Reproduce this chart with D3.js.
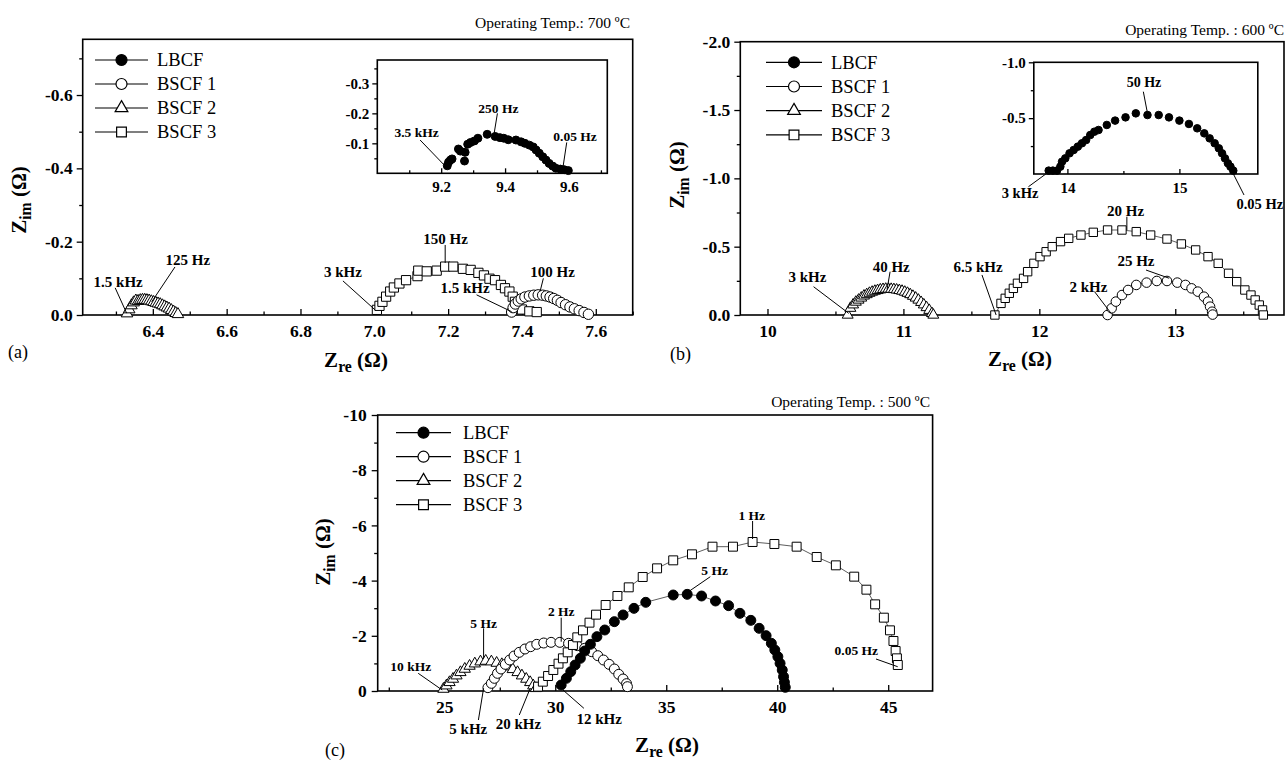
<!DOCTYPE html>
<html><head><meta charset="utf-8">
<script src="https://cdn.jsdelivr.net/npm/d3@7"></script>
<style>body{margin:0;background:#fff} svg{display:block}</style>
</head><body><svg id="c" width="1287" height="764"></svg>
<script>
const SERIF = "'Liberation Serif','Times New Roman',serif";
const seriesNames = ["LBCF","BSCF 1","BSCF 2","BSCF 3"];
const seriesTypes = ["fc","oc","tri","sq"];

// ---------- Panel (a) 700 C ----------
const a_bscf1_re = [7.372,7.376,7.382,7.390,7.398,7.408,7.420,7.432,7.444,7.456,7.466,7.476,7.486,7.496,7.506,7.518,7.530,7.542,7.555,7.568,7.580];
const a_bscf1_im = [-0.008,-0.020,-0.030,-0.038,-0.044,-0.049,-0.052,-0.054,-0.055,-0.054,-0.052,-0.049,-0.045,-0.040,-0.034,-0.028,-0.022,-0.017,-0.012,-0.007,-0.002];
const a_bscf2_re = [6.330,6.336,6.342,6.348,6.354,6.360,6.366,6.372,6.378,6.384,6.390,6.396,6.402,6.408,6.414,6.420,6.426,6.432,6.438,6.444,6.450,6.456,6.462,6.468];
const a_bscf2_im = [-0.004,-0.015,-0.026,-0.034,-0.039,-0.038,-0.040,-0.041,-0.041,-0.040,-0.039,-0.037,-0.035,-0.033,-0.031,-0.029,-0.026,-0.023,-0.020,-0.017,-0.013,-0.009,-0.005,-0.002];
const a_bscf3_re = [7.007,7.014,7.022,7.032,7.043,7.053,7.068,7.086,7.117,7.119,7.142,7.169,7.192,7.214,7.240,7.261,7.282,7.297,7.312,7.327,7.343,7.354,7.366,7.375,7.381,7.386,7.400,7.420,7.440];
const a_bscf3_im = [-0.014,-0.025,-0.036,-0.050,-0.064,-0.075,-0.086,-0.095,-0.106,-0.121,-0.119,-0.121,-0.132,-0.132,-0.126,-0.123,-0.115,-0.108,-0.099,-0.095,-0.082,-0.073,-0.064,-0.050,-0.036,-0.023,-0.015,-0.010,-0.008];
const a_lbcf_re = [9.219,9.223,9.229,9.234,9.254,9.260,9.273,9.275,9.283,9.292,9.304,9.315,9.344,9.369,9.384,9.396,9.410,9.434,9.450,9.462,9.476,9.488,9.497,9.507,9.518,9.528,9.538,9.549,9.559,9.573,9.585,9.598];
const a_lbcf_im = [-0.025,-0.037,-0.044,-0.048,-0.081,-0.074,-0.041,-0.070,-0.097,-0.103,-0.108,-0.117,-0.130,-0.123,-0.119,-0.117,-0.112,-0.111,-0.105,-0.100,-0.094,-0.088,-0.078,-0.067,-0.055,-0.044,-0.033,-0.024,-0.017,-0.014,-0.012,-0.009];
const a_xMajor = [6.4,6.6,6.8,7.0,7.2,7.4,7.6], a_xMinor = [6.3,6.5,6.7,6.9,7.1,7.3,7.5,7.7];
const a_yMajor = [0,-0.2,-0.4,-0.6], a_yMinor = [-0.1,-0.3,-0.5,-0.7];
const ai_xMajor = [9.2,9.4,9.6], ai_xMinor = [9.1,9.3,9.5,9.7];
const ai_yMajor = [-0.1,-0.2,-0.3], ai_yMinor = [-0.05,-0.15,-0.25,-0.35];

// ---------- Panel (b) 600 C ----------
const b_bscf1_re = [12.502,12.532,12.563,12.608,12.653,12.713,12.789,12.864,12.939,13.015,13.075,13.120,13.166,13.211,13.241,13.256,13.271,13.275];
const b_bscf1_im = [0,-0.049,-0.098,-0.146,-0.183,-0.220,-0.237,-0.249,-0.249,-0.237,-0.220,-0.195,-0.171,-0.134,-0.098,-0.061,-0.024,-0.003];
const b_bscf2_re = [10.59,10.61,10.63,10.65,10.67,10.69,10.71,10.73,10.75,10.77,10.79,10.81,10.83,10.85,10.87,10.89,10.91,10.93,10.95,10.97,10.99,11.01,11.03,11.05,11.07,11.09,11.11,11.13,11.15,11.17,11.19,11.21,11.22];
const b_bscf2_im = [0,-0.05,-0.075,-0.095,-0.11,-0.125,-0.14,-0.15,-0.16,-0.168,-0.175,-0.18,-0.185,-0.188,-0.19,-0.19,-0.189,-0.187,-0.184,-0.18,-0.175,-0.168,-0.16,-0.15,-0.138,-0.125,-0.11,-0.093,-0.075,-0.055,-0.035,-0.012,0];
const b_bscf3_re = [11.673,11.718,11.749,11.779,11.809,11.839,11.884,11.914,11.960,12.005,12.050,12.095,12.156,12.216,12.306,12.397,12.502,12.608,12.713,12.819,12.939,13.045,13.150,13.241,13.316,13.392,13.452,13.512,13.557,13.588,13.618,13.642,13.648];
const b_bscf3_im = [0,-0.085,-0.122,-0.159,-0.195,-0.232,-0.268,-0.317,-0.378,-0.427,-0.463,-0.500,-0.537,-0.561,-0.585,-0.605,-0.622,-0.622,-0.610,-0.585,-0.556,-0.520,-0.476,-0.427,-0.378,-0.305,-0.244,-0.183,-0.146,-0.110,-0.073,-0.037,0];
const b_lbcf_re = [13.833,13.870,13.907,13.937,13.952,13.981,14.019,14.056,14.093,14.130,14.167,14.204,14.241,14.278,14.352,14.426,14.519,14.611,14.715,14.815,14.907,15.000,15.085,15.159,15.222,15.270,15.315,15.352,15.381,15.407,15.433,15.456,15.481];
const b_lbcf_im = [-0.030,-0.030,-0.030,-0.066,-0.110,-0.140,-0.185,-0.215,-0.245,-0.275,-0.304,-0.349,-0.379,-0.394,-0.439,-0.478,-0.507,-0.543,-0.528,-0.528,-0.507,-0.478,-0.448,-0.409,-0.364,-0.319,-0.275,-0.230,-0.185,-0.140,-0.096,-0.066,-0.030];
const b_xMajor = [10,11,12,13], b_xMinor = [10.5,11.5,12.5,13.5];
const b_yMajor = [0,-0.5,-1.0,-1.5,-2.0], b_yMinor = [-0.25,-0.75,-1.25,-1.75];
const bi_xMajor = [14,15], bi_xMinor = [14.5,15.5];
const bi_yMajor = [-0.5,-1.0], bi_yMinor = [-0.25,-0.75];

// ---------- Panel (c) 500 C ----------
const c_lbcf_re = [30.265,30.501,30.697,30.894,31.130,31.326,31.582,31.876,32.230,32.662,33.055,33.546,34.077,35.314,35.943,36.591,37.220,37.809,38.320,38.811,39.185,39.499,39.735,39.892,40.029,40.128,40.226,40.285,40.324,40.363];
const c_lbcf_im = [-0.217,-0.459,-0.700,-0.942,-1.184,-1.449,-1.691,-1.969,-2.210,-2.512,-2.754,-2.995,-3.213,-3.478,-3.502,-3.442,-3.261,-3.092,-2.814,-2.560,-2.271,-2.005,-1.727,-1.486,-1.244,-1.002,-0.761,-0.519,-0.314,-0.133];
const c_bscf1_re = [26.965,27.122,27.259,27.397,27.554,27.750,27.947,28.143,28.379,28.635,28.890,29.165,29.479,29.813,30.206,30.599,30.992,31.326,31.640,31.916,32.171,32.426,32.662,32.859,33.055,33.212,33.251];
const c_bscf1_im = [-0.121,-0.278,-0.459,-0.640,-0.797,-0.966,-1.123,-1.268,-1.401,-1.522,-1.606,-1.691,-1.739,-1.763,-1.763,-1.727,-1.643,-1.546,-1.425,-1.280,-1.123,-0.966,-0.797,-0.604,-0.435,-0.266,-0.157];
const c_bscf2_re = [24.961,25.098,25.236,25.393,25.550,25.727,25.923,26.139,26.375,26.631,26.866,27.122,27.358,27.593,27.849,28.084,28.301,28.497,28.694,28.870,29.008,29.126];
const c_bscf2_im = [-0.072,-0.193,-0.314,-0.435,-0.556,-0.676,-0.797,-0.906,-0.990,-1.063,-1.087,-1.063,-1.014,-0.966,-0.882,-0.785,-0.676,-0.556,-0.435,-0.314,-0.193,-0.097];
const c_bscf3_re = [29.224,29.440,29.676,29.912,30.147,30.344,30.560,30.796,30.992,31.248,31.542,31.837,32.269,32.800,33.310,33.939,34.587,35.314,36.159,37.083,38.006,38.890,39.872,40.874,41.778,42.642,43.468,44.018,44.411,44.804,45.079,45.236,45.334,45.393,45.432];
const c_bscf3_im = [-0.157,-0.338,-0.543,-0.761,-0.990,-1.184,-1.401,-1.667,-1.944,-2.198,-2.476,-2.766,-3.116,-3.442,-3.756,-4.130,-4.444,-4.734,-4.952,-5.229,-5.229,-5.399,-5.326,-5.229,-4.855,-4.553,-4.143,-3.671,-3.140,-2.657,-2.198,-1.812,-1.449,-1.184,-0.942];
const c_xMajor = [25,30,35,40,45], c_xMinor = [22.5,27.5,32.5,37.5,42.5];
const c_yMajor = [0,-2,-4,-6,-8,-10], c_yMinor = [-1,-3,-5,-7,-9];

// ---------- drawing ----------
const svg = d3.select("#c");
const SYM = {fc:d3.symbolCircle, oc:d3.symbolCircle, tri:d3.symbolTriangle, sq:d3.symbolSquare};

function drawPanel(o){
  const x = d3.scaleLinear().domain(o.xd).range([o.l,o.r]);
  const y = d3.scaleLinear().domain(o.yd).range([o.b,o.t]);
  const g = svg.append("g");
  if (o.bg) g.append("rect").attr("x",o.l).attr("y",o.t).attr("width",o.r-o.l).attr("height",o.b-o.t).attr("fill","#fff");
  const gxm = g.append("g").attr("transform",`translate(0,${o.b})`).call(d3.axisBottom(x).tickValues(o.xMinor).tickSizeInner(-o.tmin).tickSizeOuter(0).tickFormat(""));
  const gx = g.append("g").attr("transform",`translate(0,${o.b})`).call(d3.axisBottom(x).tickValues(o.xMajor).tickSizeInner(-o.tmaj).tickSizeOuter(0).tickPadding(o.xpad).tickFormat(o.xf));
  const gym = g.append("g").attr("transform",`translate(${o.l},0)`).call(d3.axisLeft(y).tickValues(o.yMinor).tickSizeInner(o.tmin).tickSizeOuter(0).tickFormat(""));
  const gy = g.append("g").attr("transform",`translate(${o.l},0)`).call(d3.axisLeft(y).tickValues(o.yMajor).tickSizeInner(o.tmaj).tickSizeOuter(0).tickPadding(o.ypad).tickFormat(o.yf));
  [gxm,gx,gym,gy].forEach(a=>{
    a.attr("font-family",SERIF);
    a.select(".domain").remove();
    a.selectAll("line").attr("stroke","#000").attr("stroke-width",1.3);
    a.selectAll("text").attr("font-family",SERIF).attr("font-size",o.fs).attr("font-weight","bold").attr("fill","#000");
  });
  g.append("rect").attr("x",o.l).attr("y",o.t).attr("width",o.r-o.l).attr("height",o.b-o.t)
    .attr("fill","none").attr("stroke","#000").attr("stroke-width",1.6);
  return {g,x,y};
}

function drawSeries(p, xs, ys, type, size, lineOn){
  const pts = xs.map((v,i)=>[v,ys[i]]);
  if (lineOn) p.g.append("path").datum(pts)
    .attr("d", d3.line().x(d=>p.x(d[0])).y(d=>p.y(d[1])))
    .attr("fill","none").attr("stroke","#333").attr("stroke-width",0.8);
  p.g.append("g").selectAll("path").data(pts).enter().append("path")
    .attr("transform", d=>`translate(${p.x(d[0])},${p.y(d[1])})`)
    .attr("d", d3.symbol().type(SYM[type]).size(size))
    .attr("fill", type==="fc" ? "#000" : "#fff")
    .attr("stroke","#000").attr("stroke-width",1);
}

function legend(x1,x2,xt,y0,dy,fs){
  const g = svg.append("g");
  seriesNames.forEach((n,i)=>{
    const yy = y0 + i*dy, xm = (x1+x2)/2;
    g.append("line").attr("x1",x1).attr("x2",x2).attr("y1",yy).attr("y2",yy).attr("stroke","#000").attr("stroke-width",1.2);
    g.append("path").attr("transform",`translate(${xm},${yy})`)
      .attr("d", d3.symbol().type(SYM[seriesTypes[i]]).size(seriesTypes[i]==="tri"?70:95))
      .attr("fill", seriesTypes[i]==="fc"?"#000":"#fff").attr("stroke","#000").attr("stroke-width",1.2);
    g.append("text").attr("x",xt).attr("y",yy).attr("dy","0.35em").attr("font-family",SERIF)
      .attr("font-size",fs).attr("fill","#000").text(n);
  });
}

function ann(p, tx, ty, txt, lead, fs){
  p.g.append("text").attr("x",p.x(tx)).attr("y",p.y(ty)).attr("dy","0.35em").attr("text-anchor","middle")
    .attr("font-family",SERIF).attr("font-weight","bold").attr("font-size",fs).attr("fill","#000").text(txt);
  if (lead) p.g.append("line").attr("x1",p.x(lead[0])).attr("y1",p.y(lead[1])).attr("x2",p.x(lead[2])).attr("y2",p.y(lead[3]))
    .attr("stroke","#000").attr("stroke-width",1);
}

function plainText(x,y,txt,fs,anchor){
  svg.append("text").attr("x",x).attr("y",y).attr("text-anchor",anchor||"start").attr("font-family",SERIF)
    .attr("font-size",fs).attr("fill","#000").text(txt);
}

function zTitle(x,y,sub,rot,fs){
  const t = svg.append("text").attr("font-family",SERIF).attr("font-weight","bold").attr("font-size",fs)
    .attr("fill","#000").attr("text-anchor","middle")
    .attr("transform",`translate(${x},${y})${rot?" rotate(-90)":""}`);
  t.append("tspan").text("Z");
  t.append("tspan").attr("font-size",fs*0.75).attr("dy",fs*0.22).text(sub);
  t.append("tspan").attr("dy",-fs*0.22).text(" (Ω)");
}

const f1 = v => v===0 ? "0.0" : v.toFixed(1);
const f0 = v => v===0 ? "0" : v.toFixed(0);
const TF = 17.5, AF = 15, LF = 18.5, TT = 21;

// ===== Panel (a) =====
const pa = drawPanel({xd:[6.21,7.7], yd:[0,-0.752], l:82.7, r:632.7, t:39.3, b:315,
  xMajor:a_xMajor, xMinor:a_xMinor, yMajor:a_yMajor, yMinor:a_yMinor, xf:f1, yf:f1,
  tmaj:6, tmin:3.5, xpad:10, ypad:4, fs:TF});
drawSeries(pa, a_bscf2_re, a_bscf2_im, "tri", 58, true);
drawSeries(pa, a_bscf3_re, a_bscf3_im, "sq", 85, true);
drawSeries(pa, a_bscf1_re, a_bscf1_im, "oc", 85, true);
ann(pa, 6.306,-0.090, "1.5 kHz", [6.298,-0.074,6.329,-0.005], AF);
ann(pa, 6.495,-0.150, "125 Hz", [6.460,-0.131,6.397,-0.036], AF);
ann(pa, 6.915,-0.117, "3 kHz", [6.915,-0.093,7.002,-0.014], AF);
ann(pa, 7.193,-0.209, "150 Hz", [7.192,-0.191,7.192,-0.142], AF);
ann(pa, 7.483,-0.118, "100 Hz", [7.458,-0.100,7.449,-0.064], AF);
ann(pa, 7.246,-0.073, "1.5 kHz", [7.277,-0.055,7.372,-0.009], AF);
const pai = drawPanel({xd:[9.0,9.72], yd:[0,-0.378], l:377.3, r:607.3, t:60, b:173.3, bg:true,
  xMajor:ai_xMajor, xMinor:ai_xMinor, yMajor:ai_yMajor, yMinor:ai_yMinor, xf:f1, yf:f1,
  tmaj:5, tmin:3, xpad:8, ypad:3, fs:15});
drawSeries(pai, a_lbcf_re, a_lbcf_im, "fc", 50, false);
ann(pai, 9.123,-0.137, "3.5 kHz", [9.134,-0.111,9.209,-0.028], 13.5);
ann(pai, 9.379,-0.217, "250 Hz", [9.376,-0.200,9.365,-0.128], 13.5);
ann(pai, 9.619,-0.122, "0.05 Hz", [9.593,-0.103,9.580,-0.011], 13.5);
legend(95,148,157,60,24,LF);
plainText(630,28,"Operating Temp.: 700 ºC",15.5,"end");
plainText(8,358,"(a)",18);
zTitle(26,200,"im",true,TT);
zTitle(356,367,"re",false,TT);

// ===== Panel (b) =====
const pb = drawPanel({xd:[9.8,13.8], yd:[0,-2.0], l:740.3, r:1284, t:41.7, b:315,
  xMajor:b_xMajor, xMinor:b_xMinor, yMajor:b_yMajor, yMinor:b_yMinor, xf:f0, yf:f1,
  tmaj:6, tmin:3.5, xpad:10, ypad:4, fs:TF});
drawSeries(pb, b_bscf2_re, b_bscf2_im, "tri", 52, true);
drawSeries(pb, b_bscf3_re, b_bscf3_im, "sq", 70, true);
drawSeries(pb, b_bscf1_re, b_bscf1_im, "oc", 72, true);
ann(pb, 10.294,-0.280, "3 kHz", [10.339,-0.207,10.598,-0.012], AF);
ann(pb, 10.910,-0.353, "40 Hz", [10.902,-0.317,10.880,-0.188], AF);
ann(pb, 11.549,-0.353, "6.5 kHz", [11.578,-0.293,11.682,0], AF);
ann(pb, 12.634,-0.763, "20 Hz", [12.644,-0.719,12.644,-0.622], AF);
ann(pb, 12.711,-0.397, "25 Hz", [12.785,-0.329,12.955,-0.269], AF);
ann(pb, 12.361,-0.207, "2 kHz", [12.406,-0.171,12.528,-0.012], AF);
const pbi = drawPanel({xd:[13.7,15.7], yd:[0,-1.0], l:1033.8, r:1257.8, t:62.3, b:174, bg:true,
  xMajor:bi_xMajor, xMinor:bi_xMinor, yMajor:bi_yMajor, yMinor:bi_yMinor, xf:f0, yf:f1,
  tmaj:5, tmin:3, xpad:8, ypad:3, fs:15});
drawSeries(pbi, b_lbcf_re, b_lbcf_im, "fc", 45, false);
ann(pbi, 14.684,-0.826, "50 Hz", [14.678,-0.737,14.714,-0.549], 14);
ann(pbi, 13.577,0.167, "3 kHz", [13.652,0.114,13.836,-0.021], 14.5);
ann(pbi, 15.718,0.269, "0.05 Hz", [15.577,0.188,15.479,-0.006], 14.5);
legend(766,822,831,62.3,24.2,LF);
plainText(1284,35,"Operating Temp. : 600 ºC",15.5,"end");
plainText(670,360,"(b)",18);
zTitle(684,175,"im",true,TT);
zTitle(1020,366,"re",false,TT);

// ===== Panel (c) =====
const pc = drawPanel({xd:[22,47], yd:[0,-10], l:377.7, r:932.6, t:415, b:691,
  xMajor:c_xMajor, xMinor:c_xMinor, yMajor:c_yMajor, yMinor:c_yMinor, xf:f0, yf:f0,
  tmaj:6, tmin:3.5, xpad:10, ypad:5, fs:TF});
drawSeries(pc, c_bscf2_re, c_bscf2_im, "tri", 55, true);
drawSeries(pc, c_bscf1_re, c_bscf1_im, "oc", 78, true);
drawSeries(pc, c_bscf3_re, c_bscf3_im, "sq", 80, true);
drawSeries(pc, c_lbcf_re, c_lbcf_im, "fc", 78, true);
ann(pc, 38.850,-6.377, "1 Hz", [38.890,-6.159,38.890,-5.507], 13.5);
ann(pc, 37.178,-4.384, "5 Hz", [36.985,-4.141,36.002,-3.598], 13.5);
ann(pc, 30.267,-2.899, "2 Hz", [30.267,-2.656,30.267,-1.786], 13.5);
ann(pc, 26.771,-2.453, "5 Hz", [26.771,-2.272,26.771,-1.185], 13.5);
ann(pc, 23.491,-0.880, "10 kHz", [23.825,-0.641,24.906,-0.036], 13.5);
ann(pc, 26.082,1.351, "5 kHz", [26.537,1.051,26.771,-0.098], AF);
ann(pc, 28.343,1.170, "20 kHz", [28.379,0.870,28.871,-0.098], AF);
ann(pc, 31.975,0.989, "12 kHz", [31.290,0.627,30.348,-0.036], AF);
ann(pc, 43.563,-1.486, "0.05 Hz", [44.450,-1.159,45.428,-0.880], 13.5);
legend(396,451,463,432.7,24,LF);
plainText(930,407,"Operating Temp. : 500 ºC",15.5,"end");
plainText(325,756,"(c)",18);
zTitle(330,552,"im",true,TT);
zTitle(667,752,"re",false,TT);
</script></body></html>
